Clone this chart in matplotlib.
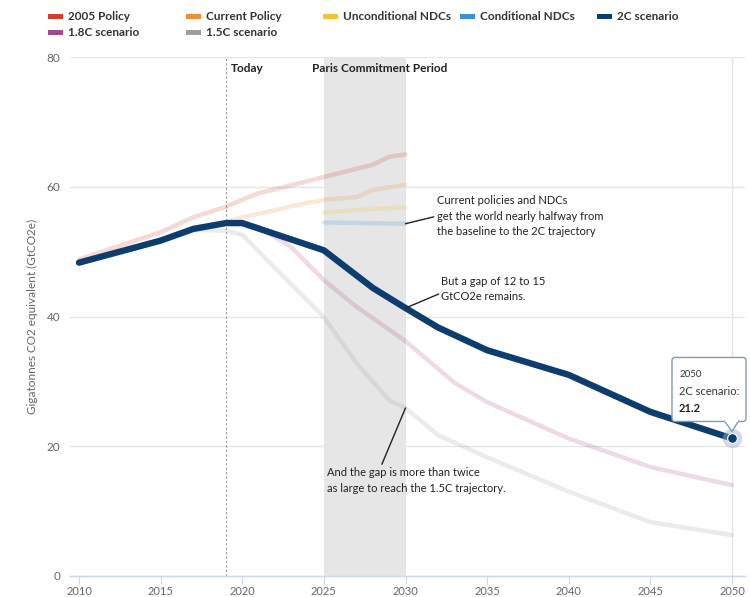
import matplotlib
matplotlib.use("Agg")
import matplotlib.pyplot as plt
from matplotlib.patches import Rectangle, FancyBboxPatch, Polygon
from matplotlib.transforms import ScaledTranslation

plt.rcParams['font.family'] = ['Lato', 'DejaVu Sans']

# ---------------- data ----------------
series_names = ["2005 Policy", "Current Policy", "Unconditional NDCs",
                "Conditional NDCs", "2C scenario", "1.8C scenario", "1.5C scenario"]
series_colors = ["#c8432b", "#e8913a", "#f0c330", "#3a8fd6", "#0d3d6e", "#a14b8a", "#9e9e9e"]

policy2005_years = [2010, 2015, 2017, 2019, 2020, 2021, 2022, 2025, 2028, 2029, 2030]
policy2005_vals = [48.8, 53.0, 55.3, 56.9, 58.0, 59.0, 59.6, 61.5, 63.4, 64.6, 65.0]

current_years = [2019, 2020, 2022, 2023, 2025, 2027, 2028, 2030]
current_vals = [54.6, 55.3, 56.4, 57.0, 58.0, 58.4, 59.5, 60.3]

uncond_years = [2025, 2027, 2028, 2030]
uncond_vals = [56.0, 56.4, 56.6, 56.8]

cond_years = [2025, 2030]
cond_vals = [54.5, 54.3]

c2_years = [2010, 2015, 2017, 2019, 2020, 2025, 2028, 2030, 2032, 2035, 2040, 2045, 2050]
c2_vals = [48.3, 51.7, 53.5, 54.4, 54.4, 50.2, 44.4, 41.3, 38.3, 34.8, 31.0, 25.3, 21.2]

c18_years = [2020, 2021, 2023, 2025, 2027, 2030, 2033, 2035, 2040, 2045, 2050]
c18_vals = [54.4, 53.8, 50.7, 45.6, 41.5, 36.2, 29.8, 26.8, 21.2, 16.8, 14.0]

c15_years = [2010, 2015, 2017, 2019, 2020, 2022, 2025, 2027, 2029, 2030, 2032, 2035, 2040, 2045, 2050]
c15_vals = [48.3, 51.7, 53.4, 53.2, 52.6, 47.5, 39.9, 32.8, 27.1, 25.9, 21.7, 18.3, 13.0, 8.3, 6.3]

today_year = 2019
paris_start, paris_end = 2025, 2030
x_ticks = [2010, 2015, 2020, 2025, 2030, 2035, 2040, 2045, 2050]
y_ticks = [0, 20, 40, 60, 80]

# ---------------- figure ----------------
fig = plt.figure(figsize=(7.5, 5.97), dpi=100)
ax = fig.add_axes([70 / 750, 21 / 597, 675 / 750, 519 / 597])
ax.set_xlim(2010 - 9 / 16.325, 2050 + 13 / 16.325)
ax.set_ylim(0, 80)

for s in ["top", "right", "left"]:
    ax.spines[s].set_visible(False)
ax.spines["bottom"].set_color("#ccd6eb")
ax.spines["bottom"].set_linewidth(1)

ax.set_yticks(y_ticks)
ax.set_xticks(x_ticks)
ax.tick_params(axis="y", length=0, labelsize=8.5, labelcolor="#666666", pad=7)
ax.tick_params(axis="x", length=6, color="#ccd6eb", labelsize=8, labelcolor="#666666", pad=1)
ax.yaxis.grid(True, color="#e6e6e6", linewidth=1)
ax.set_axisbelow(True)

ax.set_ylabel("Gigatonnes CO2 equivalent (GtCO2e)", fontsize=8.5, color="#666666", labelpad=6)

# Paris commitment shading
ax.axvspan(paris_start, paris_end, ymin=0, ymax=1, color="#e6e6e6", zorder=0.5, lw=0)
# Today line
ax.axvline(today_year, color="#999999", lw=0.8, ls=(0, (2, 2)), zorder=0.6)
# Crosshair at 2050
ax.axvline(c2_years[-1], color="#e6e6e6", lw=1, zorder=0.55)

ax.text(today_year + 0.3, 79, "Today", fontsize=8.5, fontweight="bold", color="#222222", va="top", ha="left")
ax.text(paris_start - 0.7, 79, "Paris Commitment Period", fontsize=8.5, fontweight="bold",
        color="#222222", va="top", ha="left")

faded = dict(lw=3.2, alpha=0.2, solid_capstyle="round", solid_joinstyle="round", zorder=2)
ax.plot(policy2005_years, policy2005_vals, color=series_colors[0], **faded)
ax.plot(current_years, current_vals, color=series_colors[1], **faded)
ax.plot(uncond_years, uncond_vals, color=series_colors[2], **faded)
ax.plot(cond_years, cond_vals, color=series_colors[3], **faded)
ax.plot(c18_years, c18_vals, color=series_colors[5], **faded)
ax.plot(c15_years, c15_vals, color=series_colors[6], **faded)
ax.plot(c2_years, c2_vals, color=series_colors[4], lw=4.6, solid_capstyle="round",
        solid_joinstyle="round", zorder=3)

# highlighted point
ax.plot([c2_years[-1]], [c2_vals[-1]], 'o', ms=14, color="#9fb0c6", alpha=0.45, zorder=4, mec="none")
ax.plot([c2_years[-1]], [c2_vals[-1]], 'o', ms=7, color=series_colors[4], mec="white", mew=0.8, zorder=5)

# annotations
ann_kw = dict(fontsize=8, color="#222222", ha="left", va="top", linespacing=1.5)
ax.annotate("Current policies and NDCs\nget the world nearly halfway from\nthe baseline to the 2C trajectory",
            xy=(cond_years[-1], cond_vals[-1]), xytext=(2031.9, 58.7),
            arrowprops=dict(arrowstyle="-", color="#222222", lw=1, shrinkA=0, shrinkB=0,
                            relpos=(0, 0.5)), **ann_kw)
ax.annotate("But a gap of 12 to 15\nGtCO2e remains.",
            xy=(2030, c2_vals[7]), xytext=(2032.2, 46.3),
            arrowprops=dict(arrowstyle="-", color="#222222", lw=1, shrinkA=0, shrinkB=0,
                            relpos=(0, 0.35)), **ann_kw)
ax.annotate("And the gap is more than twice\nas large to reach the 1.5C trajectory.",
            xy=(2030, c15_vals[9]), xytext=(2025.2, 16.8),
            arrowprops=dict(arrowstyle="-", color="#222222", lw=1, shrinkA=0, shrinkB=0,
                            relpos=(0.3, 1.0)), **ann_kw)

# tooltip
tt = fig.dpi_scale_trans + ScaledTranslation(c2_years[-1], c2_vals[-1], ax.transData)
box = FancyBboxPatch((-0.60, 0.17), 0.74, 0.64, boxstyle="round,pad=0,rounding_size=0.03",
                     transform=tt, facecolor="white", edgecolor="#7f9ab5", lw=1, zorder=6,
                     clip_on=False)
fig.add_artist(box)
ptr = Polygon([(-0.075, 0.175), (0.0, 0.07), (0.065, 0.175)], closed=True, transform=tt,
              facecolor="white", edgecolor="#7f9ab5", lw=1, zorder=6, clip_on=False)
fig.add_artist(ptr)
fig.add_artist(Rectangle((-0.068, 0.16), 0.126, 0.03, transform=tt, facecolor="white",
                         edgecolor="none", zorder=6.5, clip_on=False))
fig.text(-0.53, 0.64, str(c2_years[-1]), transform=tt, fontsize=7, color="#333333", va="center", zorder=7)
fig.text(-0.53, 0.47, "2C scenario:", transform=tt, fontsize=8, color="#333333", va="center", zorder=7)
fig.text(-0.53, 0.30, f"{c2_vals[-1]}", transform=tt, fontsize=8, fontweight="bold",
         color="#222222", va="center", zorder=7)

# legend (manual, two rows)
leg_x0 = [48, 186, 323, 460, 597, 48, 186]
leg_y = [16, 16, 16, 16, 16, 32, 32]
for i in range(len(series_names)):
    x = leg_x0[i] / 750
    y = 1 - leg_y[i] / 597
    fig.add_artist(Rectangle((x, y - 2.5 / 597), 15 / 750, 5 / 597, transform=fig.transFigure,
                             facecolor=series_colors[i], edgecolor="none"))
    fig.text(x + 20 / 750, y, series_names[i], fontsize=8.5, fontweight="bold",
             color="#333333", va="center", ha="left")

fig.savefig("out.png", dpi=100)
